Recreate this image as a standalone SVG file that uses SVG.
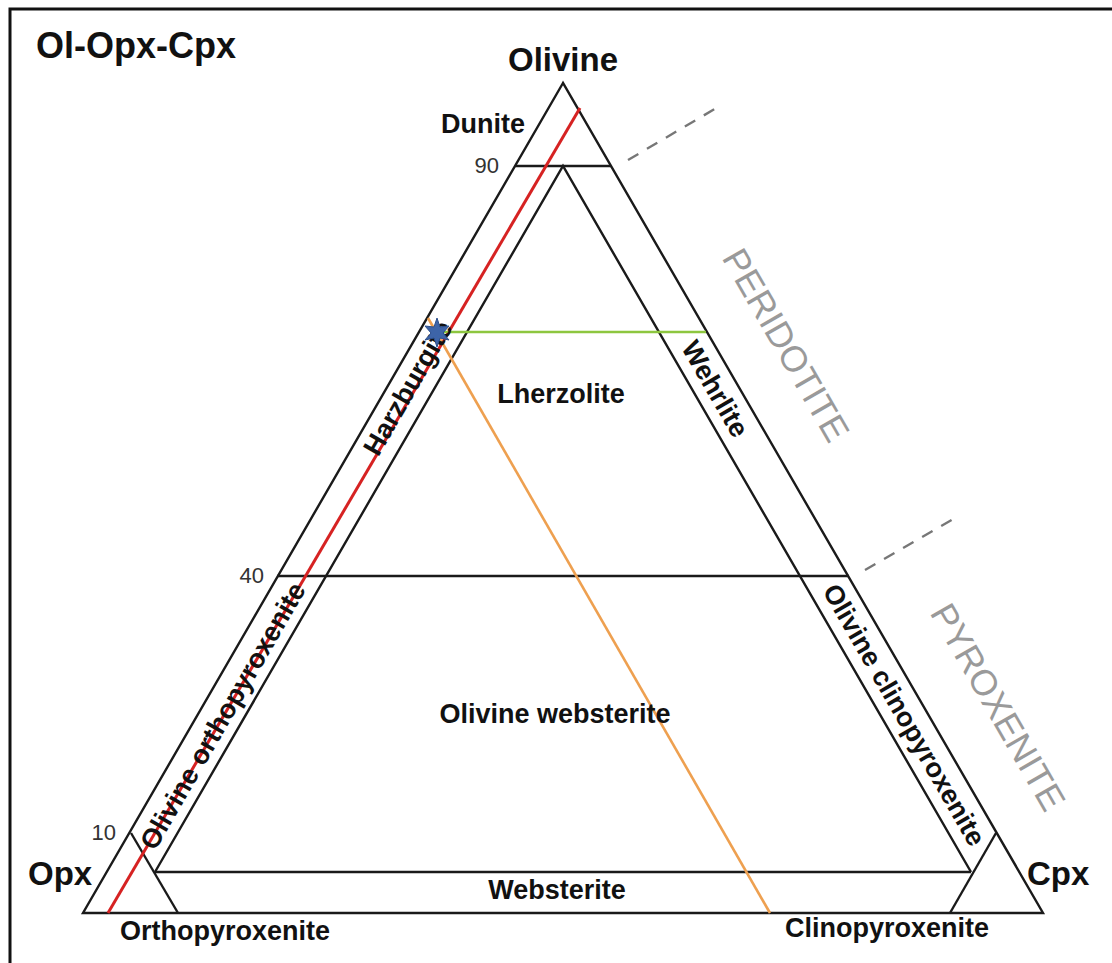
<svg xmlns="http://www.w3.org/2000/svg" width="1112" height="963" viewBox="0 0 1112 963">
  <style>
    .edge { fill: none; stroke: #1a1a1a; stroke-width: 2.4; stroke-linejoin: miter; }
    .lbl { font-family: "Liberation Sans", Arial, sans-serif; font-weight: bold; font-size: 27px; fill: #111; }
    .corner { font-family: "Liberation Sans", Arial, sans-serif; font-weight: bold; font-size: 33px; fill: #111; }
    .tick { font-family: "Liberation Sans", Arial, sans-serif; font-size: 22px; fill: #333; }
    .group { font-family: "Liberation Sans", Arial, sans-serif; font-size: 36px; fill: #9a9a9a; }
    .dash { stroke: #777; stroke-width: 2.4; stroke-dasharray: 12 10; fill: none; }
  </style>

  <rect width="1112" height="963" fill="#ffffff"/>
  <!-- frame -->
  <path d="M10,963 L10,9 L1112,9" fill="none" stroke="#111" stroke-width="3"/>

  <text x="36" y="58" class="corner" style="font-size:36px">Ol-Opx-Cpx</text>

  <!-- ternary frame and field boundaries -->
  <g id="ternary">
    <polygon class="edge" points="563,83 83,913 1043,913"/>
    <!-- 90 % olivine -->
    <line class="edge" x1="515" y1="166" x2="611" y2="166"/>
    <!-- 40 % olivine -->
    <line class="edge" x1="277" y1="576" x2="849" y2="576"/>
    <!-- 5 % lines -->
    <polyline class="edge" points="155,872 563,166 971,872"/>
    <line class="edge" x1="155" y1="872" x2="971" y2="872"/>
    <!-- 90 % Opx / Cpx corners -->
    <line class="edge" x1="131" y1="833" x2="178" y2="913"/>
    <line class="edge" x1="996" y1="833" x2="950" y2="913"/>
  </g>

  <!-- group boundary ticks -->
  <g id="group-ticks">
    <line class="dash" x1="628" y1="160" x2="718" y2="107"/>
    <line class="dash" x1="865" y1="570" x2="955" y2="518"/>
  </g>

  <!-- plotted sample lines -->
  <g id="connectors">
    <line x1="108" y1="913" x2="580" y2="108" stroke="#d62222" stroke-width="3"/>
    <line x1="437" y1="332" x2="706" y2="332" stroke="#8dc63f" stroke-width="2.6"/>
    <line x1="428" y1="318" x2="770" y2="913" stroke="#eea050" stroke-width="2.6"/>
  </g>

  <!-- apex names -->
  <g id="apex-olivine"><text x="563" y="71" class="corner" text-anchor="middle">Olivine</text></g>
  <g id="apex-opx"><text x="28" y="885" class="corner">Opx</text></g>
  <g id="apex-cpx"><text x="1027" y="885" class="corner">Cpx</text></g>

  <!-- tick values -->
  <g id="ticks">
    <text x="499" y="173" class="tick" text-anchor="end">90</text>
    <text x="264" y="583" class="tick" text-anchor="end">40</text>
    <text x="116" y="840" class="tick" text-anchor="end">10</text>
  </g>

  <!-- rock names -->
  <g id="dunite"><text x="483" y="133" class="lbl" text-anchor="middle">Dunite</text></g>
  <g id="lherzolite"><text x="561" y="403" class="lbl" text-anchor="middle">Lherzolite</text></g>
  <g id="olivine-websterite"><text x="555" y="723" class="lbl" text-anchor="middle">Olivine websterite</text></g>
  <g id="websterite"><text x="557" y="899" class="lbl" text-anchor="middle">Websterite</text></g>
  <g id="orthopyroxenite"><text x="225" y="940" class="lbl" text-anchor="middle">Orthopyroxenite</text></g>
  <g id="clinopyroxenite"><text x="887" y="937" class="lbl" text-anchor="middle">Clinopyroxenite</text></g>
  <g id="harzburgite"><text class="lbl" text-anchor="middle" dominant-baseline="central" transform="translate(408,388) rotate(-60)">Harzburgite</text></g>
  <g id="olivine-orthopyroxenite"><text class="lbl" text-anchor="middle" dominant-baseline="central" transform="translate(223,716) rotate(-60)">Olivine orthopyroxenite</text></g>
  <g id="wehrlite"><text class="lbl" text-anchor="middle" dominant-baseline="central" transform="translate(715,389) rotate(60)">Wehrlite</text></g>
  <g id="olivine-clinopyroxenite"><text class="lbl" text-anchor="middle" dominant-baseline="central" transform="translate(904,715) rotate(60)">Olivine clinopyroxenite</text></g>

  <!-- rock groups -->
  <g id="peridotite"><text class="group" text-anchor="middle" dominant-baseline="central" transform="translate(786,345) rotate(60)">PERIDOTITE</text></g>
  <g id="pyroxenite"><text class="group" text-anchor="middle" dominant-baseline="central" transform="translate(998,707) rotate(60)">PYROXENITE</text></g>

  <!-- sample point -->
  <g id="sample">
    <polygon fill="#3d64a8" stroke="#2c4f8c" stroke-width="1" points="437,318 440,327 449,326 443,333 449,340 440,338 437,347 434,338 425,340 431,333 425,326 434,327"/>
  </g>
</svg>
